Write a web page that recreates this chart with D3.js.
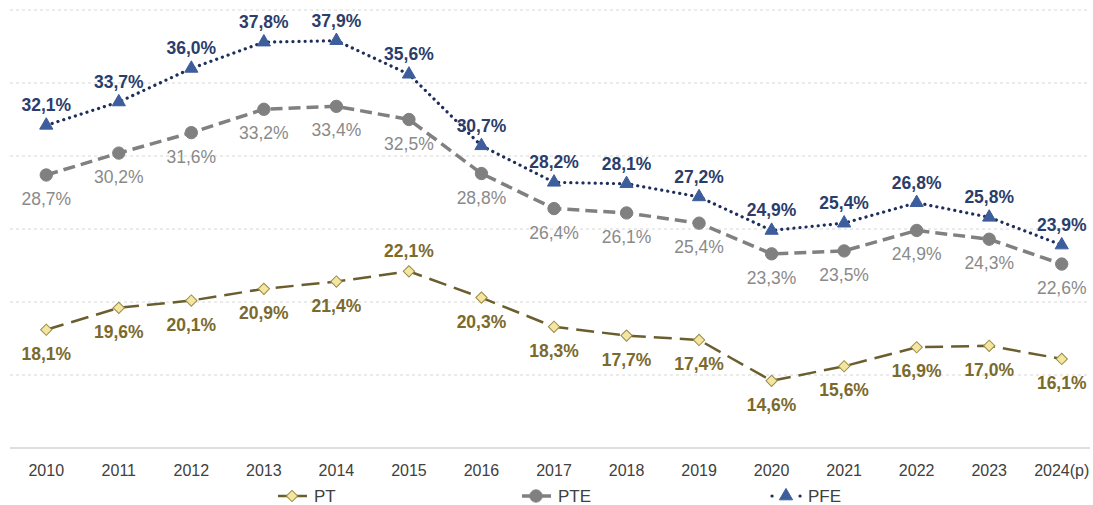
<!DOCTYPE html>
<html>
<head>
<meta charset="utf-8">
<script src="https://cdn.jsdelivr.net/npm/d3@7"></script>
<style>
  body { margin: 0; background: #fff; }
  text { font-family: "Liberation Sans", Arial, sans-serif; }
</style>
</head>
<body>
<div id="chart-area"></div>
<script>
// chart data
var years = ["2010", "2011", "2012", "2013", "2014", "2015", "2016", "2017", "2018", "2019", "2020", "2021", "2022", "2023", "2024(p)"];
var pt  = [18.1, 19.6, 20.1, 20.9, 21.4, 22.1, 20.3, 18.3, 17.7, 17.4, 14.6, 15.6, 16.9, 17.0, 16.1];
var pte = [28.7, 30.2, 31.6, 33.2, 33.4, 32.5, 28.8, 26.4, 26.1, 25.4, 23.3, 23.5, 24.9, 24.3, 22.6];
var pfe = [32.1, 33.7, 36.0, 37.8, 37.9, 35.6, 30.7, 28.2, 28.1, 27.2, 24.9, 25.4, 26.8, 25.8, 23.9];
var gridTicks = [15, 20, 25, 30, 35, 40];

var width = 1093, height = 505;

var svg = d3.select("#chart-area").append("svg")
    .attr("width", width)
    .attr("height", height);

var x = d3.scaleBand()
    .domain(years)
    .range([10, 1098]);

var y = d3.scaleLinear()
    .domain([10, 40])
    .range([448, 10]);

function cx(i) { return x(years[i]) + x.bandwidth() / 2; }
function fmt(v) { return v.toFixed(1).replace(".", ",") + "%"; }

// gridlines
svg.append("g").selectAll("line")
    .data(gridTicks)
    .enter().append("line")
    .attr("x1", 10).attr("x2", 1090)
    .attr("y1", function (d) { return y(d); })
    .attr("y2", function (d) { return y(d); })
    .attr("stroke", "#d6d6d6")
    .attr("stroke-width", 1)
    .attr("stroke-dasharray", "3,3");

// x axis
var xAxis = svg.append("g")
    .attr("transform", "translate(0," + y(10) + ")")
    .call(d3.axisBottom(x).tickSize(0).tickPadding(17));
xAxis.select(".domain").attr("stroke", "#dedede").attr("stroke-width", 2)
    .attr("d", "M10,0H1090");
xAxis.selectAll("text").attr("font-size", 16).attr("fill", "#404040")
    .style("font-family", "'Liberation Sans', Arial, sans-serif");

var series = [
  {name: "PT", values: pt, line: "#6b5e2e", dash: "18,8", lw: 2.5, marker: "diamond",
   fill: "#f2e6a0", mstroke: "#9a8a44", label: "#7b6a2e", weight: "bold", lx: 278},
  {name: "PTE", values: pte, line: "#808080", dash: "12,6", lw: 3.5, marker: "circle",
   fill: "#808080", mstroke: "#808080", label: "#8a8a8a", weight: "normal", lx: 522},
  {name: "PFE", values: pfe, line: "#1f2f5c", dash: "0.1,6", lw: 3.2, marker: "triangle",
   fill: "#3d5d9c", mstroke: "#3d5d9c", label: "#2b3d6b", weight: "bold", lx: 772}
];

var symbols = {
  diamond: d3.symbol().type(d3.symbolSquare).size(64),
  circle: d3.symbol().type(d3.symbolCircle).size(120),
  triangle: d3.symbol().type(d3.symbolTriangle).size(75)
};
function rot(s) { return s.marker === "diamond" ? " rotate(45)" : ""; }

var line = d3.line()
    .x(function (d, i) { return cx(i); })
    .y(function (d) { return y(d); });

series.forEach(function (s) {
    svg.append("path")
        .datum(s.values)
        .attr("fill", "none")
        .attr("stroke", s.line)
        .attr("stroke-width", s.lw)
        .attr("stroke-linecap", s.name === "PFE" ? "round" : "butt")
        .attr("stroke-dasharray", s.dash)
        .attr("d", line);

    svg.append("g").selectAll("path")
        .data(s.values)
        .enter().append("path")
        .attr("d", symbols[s.marker])
        .attr("transform", function (d, i) { return "translate(" + cx(i) + "," + y(d) + ")" + rot(s); })
        .attr("fill", s.fill)
        .attr("stroke", s.mstroke)
        .attr("stroke-width", 1);
});

// data labels
series.forEach(function (s) {
    svg.append("g").selectAll("text")
        .data(s.values)
        .enter().append("text")
        .attr("x", function (d, i) { return cx(i); })
        .attr("y", function (d, i) {
            var above = s.name === "PFE" || (s.name === "PT" && i === 5);
            return above ? y(d) - 14 : y(d) + 30;
        })
        .attr("text-anchor", "middle")
        .attr("font-size", 17.5)
        .attr("font-weight", s.weight)
        .attr("fill", s.label)
        .text(function (d) { return fmt(d); });
});

// legend
series.forEach(function (s) {
    var g = svg.append("g").attr("transform", "translate(" + s.lx + ",496)");
    g.append("line")
        .attr("x1", 0).attr("x2", 29)
        .attr("stroke", s.line)
        .attr("stroke-width", s.lw)
        .attr("stroke-linecap", s.name === "PFE" ? "round" : "butt")
        .attr("stroke-dasharray", s.name === "PFE" ? "0.1,13.9" : null);
    g.append("path")
        .attr("d", symbols[s.marker])
        .attr("transform", "translate(14,0)" + rot(s))
        .attr("fill", s.fill)
        .attr("stroke", s.mstroke);
    g.append("text")
        .attr("x", 36).attr("y", 6)
        .attr("font-size", 17)
        .attr("fill", "#404040")
        .text(s.name);
});
</script>
</body>
</html>
